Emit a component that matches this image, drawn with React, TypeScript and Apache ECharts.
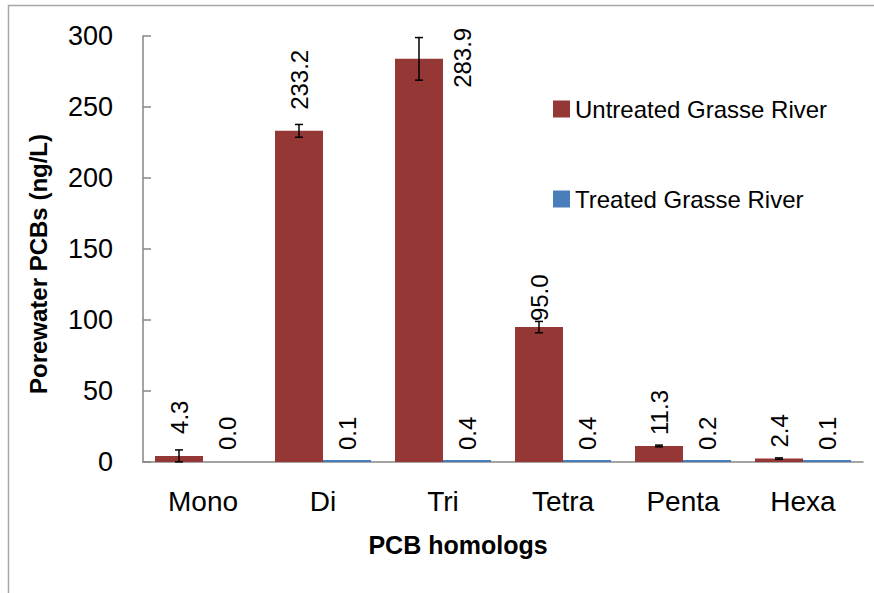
import React, { useEffect, useRef } from "react";
import * as echarts from "echarts";

const categories = ["Mono", "Di", "Tri", "Tetra", "Penta", "Hexa"];
const untreated = [4.3, 233.2, 283.9, 95.0, 11.3, 2.4];
const treated = [0.0, 0.1, 0.4, 0.4, 0.2, 0.1];
const untreatedErr = [4.2, 4.5, 15.0, 4.0, 0.6, 0.5];
const yTicks = { min: 0, max: 300, interval: 50 };
const seriesNames = ["Untreated Grasse River", "Treated Grasse River"];
const xTitle = "PCB homologs";
const yTitle = "Porewater PCBs (ng/L)";

const FONT = "'Liberation Sans', Arial, sans-serif";
const RED = "#953735";
const BLUE = "#4a7ebb";

export default function App() {
  const ref = useRef<HTMLDivElement>(null);
  useEffect(() => {
    if (!ref.current) return;
    const chart = echarts.init(ref.current, undefined, { renderer: "svg" });

    const baseLabel = {
      show: true,
      position: "top",
      rotate: 90,
      align: "left",
      verticalAlign: "middle",
      color: "#000",
      fontFamily: FONT,
      fontSize: 24,
      formatter: (p: any) => Number(p.value).toFixed(1),
    };

    const redDistances: Record<number, number> = { 0: 22, 1: 21, 3: 6 };
    const redData = untreated.map((v, i) => {
      if (i === 2) {
        return {
          value: v,
          label: { ...baseLabel, position: [67, 29] },
        };
      }
      return {
        value: v,
        label: { ...baseLabel, distance: redDistances[i] ?? 11 },
      };
    });
    const blueData = treated.map((v) => ({
      value: v,
      itemStyle: v === 0 ? { color: "rgba(0,0,0,0)" } : undefined,
    }));

    chart.setOption({
      animation: false,
      textStyle: { fontFamily: FONT },
      grid: { left: 143, top: 36, right: 11, bottom: 131, containLabel: false },
      legend: {
        orient: "vertical",
        left: 548,
        top: 92,
        itemWidth: 17,
        itemHeight: 17,
        itemGap: 66,
        icon: "rect",
        data: seriesNames,
        textStyle: { color: "#000", fontSize: 24, fontFamily: FONT, lineHeight: 20 },
      },
      xAxis: {
        type: "category",
        data: categories,
        axisLine: { show: true, lineStyle: { color: "#868686", width: 1.5 } },
        axisTick: { show: false },
        axisLabel: { color: "#000", fontSize: 28, fontFamily: FONT, margin: 25 },
      },
      yAxis: {
        type: "value",
        min: yTicks.min,
        max: yTicks.max,
        interval: yTicks.interval,
        splitLine: { show: false },
        axisLine: { show: true, lineStyle: { color: "#868686", width: 1.5 } },
        axisTick: { show: true, inside: true, length: 8, lineStyle: { color: "#868686", width: 1.5 } },
        axisLabel: { color: "#000", fontSize: 27, fontFamily: FONT, margin: 30 },
      },
      series: [
        {
          name: seriesNames[0],
          type: "bar",
          barWidth: "40%",
          barGap: "0%",
          itemStyle: { color: RED },
          data: redData,
        },
        {
          name: seriesNames[1],
          type: "bar",
          barWidth: "40%",
          barGap: "0%",
          barMinHeight: 2,
          itemStyle: { color: BLUE },
          label: { ...baseLabel, distance: 10 },
          data: blueData,
        },
        {
          name: "err",
          type: "custom",
          z: 10,
          encode: { x: 0, y: 1 },
          data: categories.map((_, i) => [i, untreated[i], untreatedErr[i]]),
          renderItem: (params: any, api: any) => {
            const idx = api.value(0);
            const v = api.value(1);
            const e = api.value(2);
            const band = api.size([1, 0])[0];
            const off = -band * 0.2;
            const top = api.coord([idx, v + e]);
            const bot = api.coord([idx, Math.max(v - e, 0)]);
            const x = top[0] + off;
            const cap = 4;
            const style = { stroke: "#000", lineWidth: 1.5 };
            return {
              type: "group",
              children: [
                { type: "line", shape: { x1: x, y1: top[1], x2: x, y2: bot[1] }, style },
                { type: "line", shape: { x1: x - cap, y1: top[1], x2: x + cap, y2: top[1] }, style },
                { type: "line", shape: { x1: x - cap, y1: bot[1], x2: x + cap, y2: bot[1] }, style },
              ],
            };
          },
        },
      ],
      graphic: [
        {
          type: "rect",
          shape: { x: 8.5, y: 5.5, width: 1000, height: 1000 },
          style: { fill: "none", stroke: "#a6a6a6", lineWidth: 1.5 },
          silent: true,
          z: -10,
        },
        {
          type: "text",
          x: 458,
          y: 545,
          style: {
            text: xTitle,
            fontFamily: FONT,
            fontSize: 25,
            fontWeight: "bold",
            fill: "#000",
            align: "center",
            verticalAlign: "middle",
          },
        },
        {
          type: "text",
          x: 38,
          y: 264,
          rotation: Math.PI / 2,
          style: {
            text: yTitle,
            fontFamily: FONT,
            fontSize: 24,
            fontWeight: "bold",
            fill: "#000",
            align: "center",
            verticalAlign: "middle",
          },
        },
      ],
    });
    return () => chart.dispose();
  }, []);
  return (
    <div
      ref={ref}
      style={{ position: "absolute", left: 0, top: 0, width: 874, height: 593, background: "#fff" }}
    />
  );
}
